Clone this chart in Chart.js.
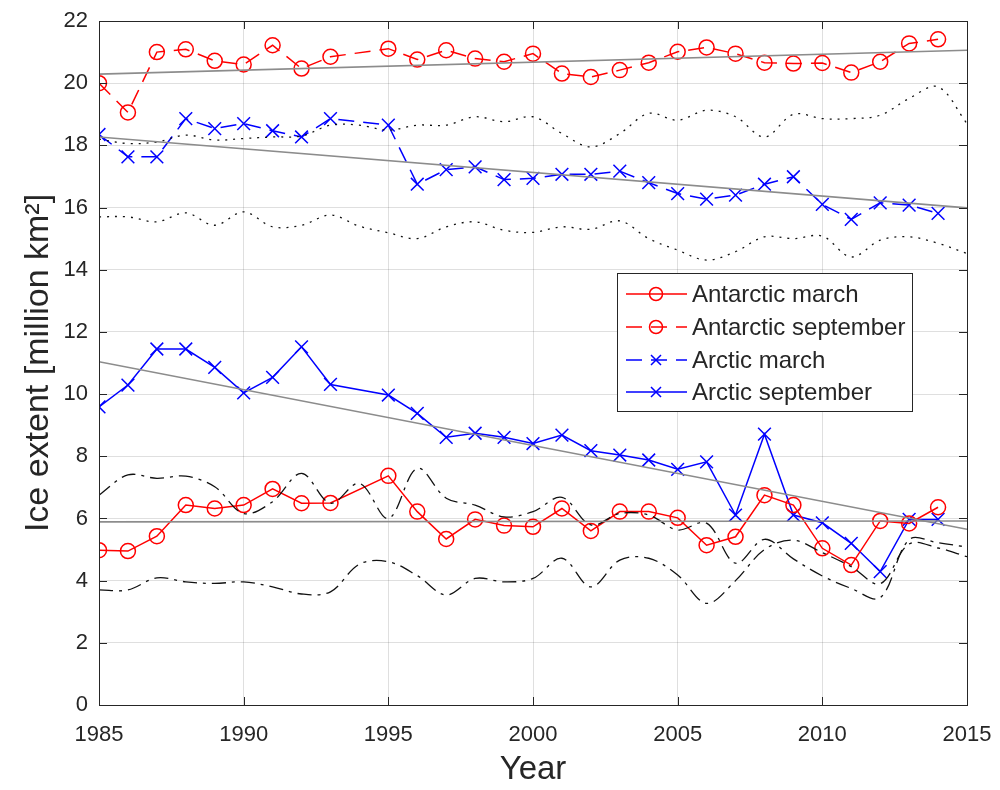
<!DOCTYPE html>
<html>
<head>
<meta charset="utf-8">
<script src="https://cdn.jsdelivr.net/npm/chart.js@4.4.1/dist/chart.umd.min.js"></script>
<style>
  html, body { margin: 0; padding: 0; background: #ffffff; }
  canvas { display: block; }
</style>
</head>
<body>
<canvas id="ice" width="1000" height="790"></canvas>
<script>
// Observation years (1994 has no observation)
const years = [1985,1986,1987,1988,1989,1990,1991,1992,1993,1994,1995,1996,1997,1998,1999,
               2000,2001,2002,2003,2004,2005,2006,2007,2008,2009,2010,2011,2012,2013,2014];
const modelYears = [1985,1986,1987,1988,1989,1990,1991,1992,1993,1994,1995,1996,1997,1998,1999,
                    2000,2001,2002,2003,2004,2005,2006,2007,2008,2009,2010,2011,2012,2013,2014,2015];

// Sea-ice extent, million km^2
const antarcticMarch = [4.98,4.95,5.43,6.43,6.32,6.43,6.95,6.49,6.50,null,7.37,6.22,5.34,5.97,5.77,
                        5.73,6.32,5.60,6.22,6.22,6.02,5.14,5.41,6.75,6.43,5.04,4.50,5.92,5.84,6.36];
const antarcticSeptember = [20.00,19.06,21.00,21.09,20.72,20.60,21.22,20.47,20.85,null,21.11,20.76,21.06,20.79,20.69,
                            20.95,20.31,20.20,20.42,20.66,21.01,21.15,20.95,20.66,20.63,20.65,20.34,20.69,21.28,21.41];
const arcticMarch = [18.35,17.63,17.63,18.86,18.54,18.70,18.47,18.27,18.86,null,18.65,16.75,17.22,17.31,16.90,
                     16.94,17.07,17.07,17.17,16.80,16.45,16.27,16.40,16.75,16.99,16.10,15.62,16.15,16.08,15.81];
const arcticSeptember = [9.59,10.29,11.45,11.45,10.86,10.04,10.54,11.52,10.31,null,9.97,9.38,8.61,8.74,8.61,
                         8.41,8.68,8.18,8.04,7.88,7.58,7.82,6.11,8.71,6.11,5.86,5.20,4.29,5.97,5.97];

// Linear trends: value at 1985 and at 2015
const trendYears = [1985, 2015];
const trendAntarcticSeptember = [20.29, 21.06];
const trendArcticMarch = [18.27, 15.99];
const trendArcticSeptember = [11.04, 5.65];
const trendAntarcticMarch = [5.89, 5.92];

// Model envelopes
const modelArcticHigh = [18.20,18.06,18.11,18.33,18.17,18.22,18.27,18.30,18.65,18.65,18.49,18.65,18.65,18.92,18.76,
                         18.92,18.38,17.95,18.38,19.03,18.81,19.13,18.92,18.27,19.00,18.86,18.86,18.97,19.51,19.88,18.70];
const modelArcticLow = [15.70,15.70,15.54,15.83,15.43,15.86,15.38,15.43,15.76,15.40,15.19,15.00,15.38,15.54,15.27,
                        15.20,15.38,15.30,15.57,15.00,14.63,14.31,14.58,15.06,15.00,15.08,14.41,14.95,15.06,14.85,14.52];
const modelAntarcticHigh = [6.75,7.40,7.29,7.36,7.02,6.16,6.54,7.45,6.49,7.13,6.00,7.61,6.65,6.43,6.05,
                            6.22,6.68,5.79,6.16,6.11,5.63,5.85,4.56,5.33,4.70,4.15,3.75,3.45,5.32,5.22,5.08];
const modelAntarcticLow = [3.70,3.70,4.09,3.96,3.91,3.96,3.80,3.57,3.64,4.53,4.61,4.16,3.54,4.07,3.96,
                           4.07,4.72,3.80,4.66,4.72,4.18,3.27,4.00,5.00,5.30,4.90,4.45,3.90,5.18,5.05,4.77];

const xTicks = [1985, 1990, 1995, 2000, 2005, 2010, 2015];
const yTicks = [0, 2, 4, 6, 8, 10, 12, 14, 16, 18, 20, 22];
const legendLabels = ['Antarctic march', 'Antarctic september', 'Arctic march', 'Arctic september'];

const pts = (xs, ys) => xs.map((x, i) => ({ x: x, y: ys[i] }));

const FONT = "'Liberation Sans', Arial, Helvetica, sans-serif";
const INK = '#262626';
const RED = '#ff0000';
const BLUE = '#0000ff';
const GRAY = '#8c8c8c';

function observed(label, ys, color, style, dash) {
  return {
    label: label,
    data: pts(years, ys),
    borderColor: color,
    borderWidth: 1.5,
    borderDash: dash,
    backgroundColor: 'rgba(0,0,0,0)',
    pointStyle: style,
    pointRadius: style === 'circle' ? 7.5 : 9,
    pointBorderWidth: 1.5,
    pointBorderColor: color,
    pointBackgroundColor: 'rgba(0,0,0,0)',
    pointHoverRadius: 0,
    spanGaps: true,
    tension: 0,
    order: 2
  };
}
function trend(ys) {
  return {
    label: '',
    data: pts(trendYears, ys),
    borderColor: GRAY,
    borderWidth: 1.6,
    pointRadius: 0,
    tension: 0,
    order: 0
  };
}
function model(ys, dash) {
  return {
    label: '',
    data: pts(modelYears, ys),
    borderColor: '#111111',
    borderWidth: 1.3,
    borderDash: dash,
    pointRadius: 0,
    tension: 0.35,
    order: 1
  };
}

const DASHED = [16, 9];
const DOTTED = [2, 6];
const DASHDOT = [14, 6, 3, 6];

// Box, inward tick marks and legend, MATLAB style
const framePlugin = {
  id: 'frame',
  afterDatasetsDraw(chart) {
    const { ctx, chartArea: a, scales } = chart;
    ctx.save();
    ctx.strokeStyle = INK;
    ctx.lineWidth = 1;
    ctx.setLineDash([]);
    ctx.strokeRect(Math.round(a.left) + 0.5, Math.round(a.top) + 0.5,
                   Math.round(a.right - a.left), Math.round(a.bottom - a.top));
    const tl = 8;
    ctx.beginPath();
    scales.x.ticks.forEach(t => {
      const x = Math.round(scales.x.getPixelForValue(t.value)) + 0.5;
      ctx.moveTo(x, a.bottom); ctx.lineTo(x, a.bottom - tl);
      ctx.moveTo(x, a.top); ctx.lineTo(x, a.top + tl);
    });
    scales.y.ticks.forEach(t => {
      const y = Math.round(scales.y.getPixelForValue(t.value)) + 0.5;
      ctx.moveTo(a.left, y); ctx.lineTo(a.left + tl, y);
      ctx.moveTo(a.right, y); ctx.lineTo(a.right - tl, y);
    });
    ctx.stroke();

    // legend
    const box = { x: 617.5, y: 273.5, w: 295, h: 138 };
    ctx.fillStyle = '#ffffff';
    ctx.fillRect(box.x, box.y, box.w, box.h);
    ctx.strokeStyle = INK;
    ctx.strokeRect(box.x, box.y, box.w, box.h);
    const entries = chart.data.datasets.filter(d => legendLabels.includes(d.label));
    const rowY = [294, 327, 360, 392];
    entries.forEach((d, i) => {
      const y = rowY[i];
      ctx.strokeStyle = d.borderColor;
      ctx.lineWidth = d.borderWidth;
      ctx.setLineDash(d.borderDash || []);
      ctx.beginPath();
      ctx.moveTo(626, y); ctx.lineTo(687, y);
      ctx.stroke();
      ctx.setLineDash([]);
      ctx.lineWidth = d.pointBorderWidth;
      ctx.strokeStyle = d.pointBorderColor;
      const cx = 656;
      ctx.beginPath();
      if (d.pointStyle === 'circle') {
        ctx.arc(cx, y, 6.5, 0, Math.PI * 2);
      } else {
        const r = 5;
        ctx.moveTo(cx - r, y - r); ctx.lineTo(cx + r, y + r);
        ctx.moveTo(cx + r, y - r); ctx.lineTo(cx - r, y + r);
      }
      ctx.stroke();
      ctx.fillStyle = INK;
      ctx.font = '24px ' + FONT;
      ctx.textAlign = 'left';
      ctx.textBaseline = 'middle';
      ctx.fillText(d.label, 692, y + 1);
    });
    ctx.restore();
  }
};

new Chart(document.getElementById('ice'), {
  type: 'line',
  data: {
    datasets: [
      observed('Antarctic march', antarcticMarch, RED, 'circle', []),
      observed('Antarctic september', antarcticSeptember, RED, 'circle', DASHED),
      observed('Arctic march', arcticMarch, BLUE, 'crossRot', DASHED),
      observed('Arctic september', arcticSeptember, BLUE, 'crossRot', []),
      trend(trendAntarcticSeptember),
      trend(trendArcticMarch),
      trend(trendArcticSeptember),
      trend(trendAntarcticMarch),
      model(modelArcticHigh, DOTTED),
      model(modelArcticLow, DOTTED),
      model(modelAntarcticHigh, DASHDOT),
      model(modelAntarcticLow, DASHDOT)
    ]
  },
  options: {
    responsive: false,
    animation: false,
    devicePixelRatio: 1,
    layout: { padding: { top: 21, right: 33, left: 0, bottom: 0 } },
    plugins: { legend: { display: false }, tooltip: { enabled: false } },
    events: [],
    scales: {
      x: {
        type: 'linear',
        min: 1985, max: 2015,
        afterBuildTicks: s => { s.ticks = xTicks.map(v => ({ value: v })); },
        afterFit: s => { s.height = 85; s.paddingLeft = 0; s.paddingRight = 0; },
        grid: { color: 'rgba(38,38,38,0.15)', lineWidth: 1, drawTicks: false },
        border: { display: false },
        ticks: { padding: 17, color: INK, font: { family: FONT, size: 22 }, maxRotation: 0,
                 callback: v => String(v) },
        title: { display: true, text: 'Year', color: INK,
                 font: { family: FONT, size: 33, lineHeight: 1.2 }, padding: { top: 0, bottom: 0 } }
      },
      y: {
        type: 'linear',
        min: 0, max: 22,
        afterBuildTicks: s => { s.ticks = yTicks.map(v => ({ value: v })); },
        afterFit: s => { s.width = 99; s.paddingTop = 0; s.paddingBottom = 0; },
        grid: { color: 'rgba(38,38,38,0.15)', lineWidth: 1, drawTicks: false },
        border: { display: false },
        ticks: { padding: 11, color: INK, font: { family: FONT, size: 22 },
                 callback: v => String(v) },
        title: { display: true, text: 'Ice extent [million km²]', color: INK,
                 font: { family: FONT, size: 34, lineHeight: 1.2 }, padding: { top: 18, bottom: 0 } }
      }
    }
  },
  plugins: [framePlugin]
});
</script>
</body>
</html>
